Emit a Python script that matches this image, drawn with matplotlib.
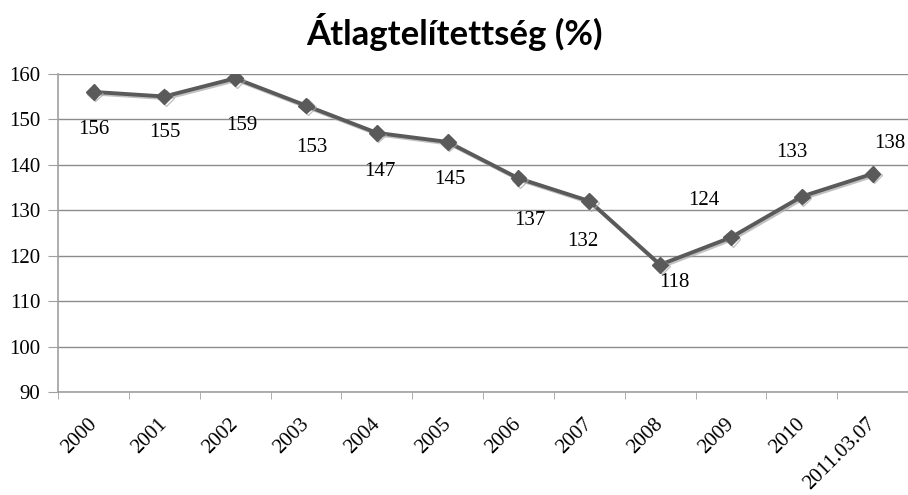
import matplotlib.pyplot as plt
import matplotlib.patheffects as pe
import matplotlib.transforms as mtransforms

plt.rcParams['font.family'] = ['Liberation Serif', 'DejaVu Serif']

# Chart data
categories = ['2000', '2001', '2002', '2003', '2004', '2005', '2006',
              '2007', '2008', '2009', '2010', '2011.03.07']
values = [156, 155, 159, 153, 147, 145, 137, 132, 118, 124, 133, 138]

# Label offsets (pixels) relative to each point
label_dx = [0, 1, 7, 6, 3, 2, 11, -6, 14, -27, -10, 17]
label_dy = [-38, -36, -47, -42, -39, -38, -42, -40, -18, 37, 44, 30]

fig = plt.figure(figsize=(9.08, 4.95), dpi=100)
ax = fig.add_axes([0.064, 0.208, 0.936, 0.643])

x = list(range(len(categories)))
ax.plot(x, values, color='#5a5a5a', lw=2.8, marker='D', markersize=8,
        markerfacecolor='#5a5a5a', markeredgecolor='#5a5a5a', zorder=3,
        path_effects=[pe.SimpleLineShadow(offset=(1.2, -1.2), shadow_color='#a8a8a8', alpha=0.7),
                      pe.Normal()])

for i, v in enumerate(values):
    ax.annotate(str(v), (x[i], v), xytext=(label_dx[i] * 0.72, label_dy[i] * 0.72),
                textcoords='offset points', ha='center', va='center',
                fontsize=15, color='black')

ax.set_xlim(-0.5, len(categories) - 0.5)
ax.set_ylim(90, 160)
ax.set_yticks(range(90, 161, 10))
ax.yaxis.grid(True, color='#8c8c8c', lw=1)
ax.set_axisbelow(True)

ax.set_xticks(x)
ax.set_xticklabels(categories, rotation=45, ha='right', va='top', fontsize=15)
ax.set_xticks([i - 0.5 for i in range(len(categories) + 1)], minor=True)
ax.tick_params(axis='x', which='major', length=0, pad=16)
ax.tick_params(axis='x', which='minor', length=5, color='#a0a0a0', direction='out')
ax.tick_params(axis='y', length=7, color='#a0a0a0', direction='out', pad=6, labelsize=15)

# nudge rotated labels right so their ends sit near the category centre
shift = mtransforms.ScaledTranslation(7 / 100, 0, fig.dpi_scale_trans)
for lab in ax.get_xticklabels():
    lab.set_transform(lab.get_transform() + shift)

for s in ['top', 'right']:
    ax.spines[s].set_visible(False)
for s in ['left', 'bottom']:
    ax.spines[s].set_color('#a0a0a0')
    ax.spines[s].set_linewidth(1.2)

fig.text(0.5, 0.935, 'Átlagtelítettség (%)', ha='center', va='center',
         fontsize=25, fontweight='bold', family='Lato')

plt.savefig('out.png', dpi=100)
